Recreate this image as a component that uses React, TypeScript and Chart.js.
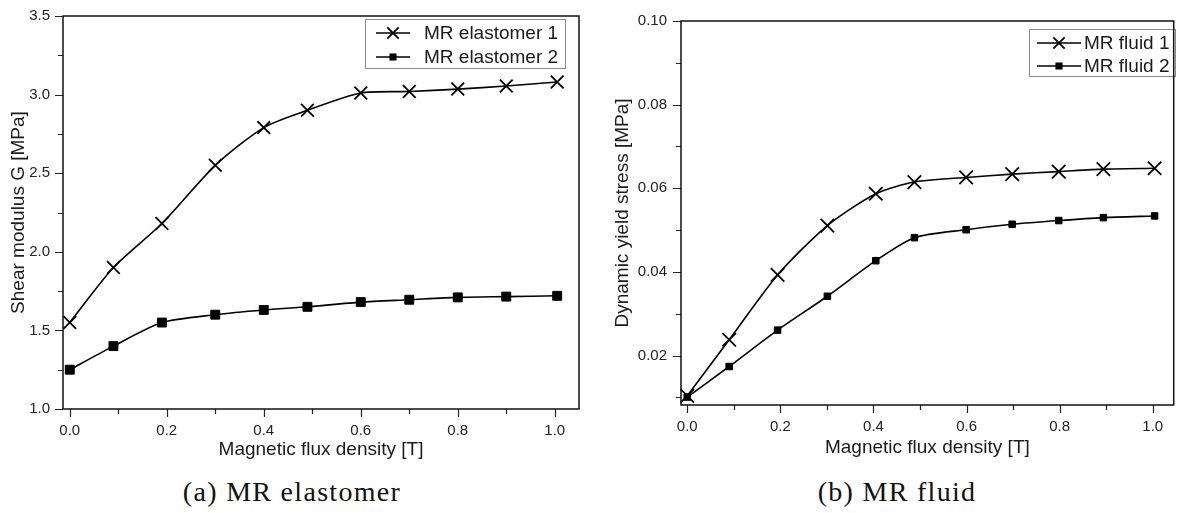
import React, { useEffect, useRef } from 'react';
import { Chart, registerables } from 'chart.js';

Chart.register(...registerables);

// ---------- data ----------
const elastomerX = [0, 0.09, 0.19, 0.3, 0.4, 0.49, 0.6, 0.7, 0.8, 0.9, 1.005];
const elastomer1 = [1.55, 1.9, 2.18, 2.55, 2.79, 2.9, 3.01, 3.02, 3.035, 3.055, 3.08];
const elastomer2 = [1.25, 1.4, 1.55, 1.6, 1.63, 1.65, 1.68, 1.695, 1.71, 1.715, 1.72];

const fluidX = [0, 0.09, 0.194, 0.301, 0.405, 0.488, 0.599, 0.698, 0.798, 0.894, 1.004];
const fluid1 = [0.0104, 0.0238, 0.0393, 0.0511, 0.0587, 0.0615, 0.0626, 0.0634, 0.064, 0.0646, 0.0648];
const fluid2 = [0.0101, 0.0174, 0.0261, 0.0342, 0.0427, 0.0482, 0.0501, 0.0514, 0.0523, 0.053, 0.0534];

const xTicks = [0, 0.1, 0.2, 0.3, 0.4, 0.5, 0.6, 0.7, 0.8, 0.9, 1.0];
const xTickLabels = ['0.0', '', '0.2', '', '0.4', '', '0.6', '', '0.8', '', '1.0'];

const elastomerYTicks = [1.0, 1.25, 1.5, 1.75, 2.0, 2.25, 2.5, 2.75, 3.0, 3.25, 3.5];
const elastomerYLabels = ['1.0', '', '1.5', '', '2.0', '', '2.5', '', '3.0', '', '3.5'];

const fluidYTicks = [0.01, 0.02, 0.03, 0.04, 0.05, 0.06, 0.07, 0.08, 0.09, 0.1];
const fluidYLabels = ['', '0.02', '', '0.04', '', '0.06', '', '0.08', '', '0.10'];

const elastomerLabels = ['MR elastomer 1', 'MR elastomer 2'];
const fluidLabels = ['MR fluid 1', 'MR fluid 2'];

const xTitle = 'Magnetic flux density [T]';
const elastomerYTitle = 'Shear modulus G [MPa]';
const fluidYTitle = 'Dynamic yield stress [MPa]';
const captionA = '(a) MR elastomer';
const captionB = '(b) MR fluid';

// ---------- helpers ----------
const SANS = '"Liberation Sans", Arial, sans-serif';
const toPts = (xs: number[], ys: number[]) => xs.map((x, i) => ({ x, y: ys[i] }));

function drawMarker(ctx: CanvasRenderingContext2D, style: string, cx: number, cy: number, r: number, bw: number) {
  ctx.save();
  ctx.strokeStyle = '#000';
  ctx.fillStyle = '#000';
  ctx.lineWidth = bw;
  if (style === 'crossRot') {
    const o = r * Math.SQRT1_2;
    ctx.beginPath();
    ctx.moveTo(cx - o, cy - o);
    ctx.lineTo(cx + o, cy + o);
    ctx.moveTo(cx - o, cy + o);
    ctx.lineTo(cx + o, cy - o);
    ctx.stroke();
  } else {
    const s = r * Math.SQRT1_2;
    ctx.fillRect(cx - s, cy - s, 2 * s, 2 * s);
  }
  ctx.restore();
}

const boxLegend = {
  id: 'boxLegend',
  afterDraw(chart: any, _args: any, opts: any) {
    const { ctx } = chart;
    ctx.save();
    ctx.strokeStyle = '#8a8a8a';
    ctx.lineWidth = 1;
    ctx.strokeRect(opts.x + 0.5, opts.y + 0.5, opts.w, opts.h);
    chart.data.datasets.forEach((ds: any, i: number) => {
      const y = opts.rows[i];
      ctx.strokeStyle = '#000';
      ctx.lineWidth = 1.5;
      ctx.beginPath();
      ctx.moveTo(opts.lineX0, y);
      ctx.lineTo(opts.lineX1, y);
      ctx.stroke();
      drawMarker(ctx, ds.pointStyle, (opts.lineX0 + opts.lineX1) / 2, y, opts.markerR[i], ds.pointBorderWidth);
      ctx.fillStyle = '#1a1a1a';
      ctx.font = `19px ${SANS}`;
      ctx.textBaseline = 'middle';
      ctx.textAlign = 'left';
      ctx.fillText(ds.label, opts.textX, y + 1);
    });
    ctx.restore();
  },
};

// frame around the plot plus outward major/minor tick marks
const frame = {
  id: 'frame',
  afterDraw(chart: any, _args: any, opts: any) {
    const { ctx, chartArea: a, scales } = chart;
    ctx.save();
    ctx.strokeStyle = '#222';
    ctx.lineWidth = 1.2;
    ctx.beginPath();
    opts.xTicks.forEach((v: number, i: number) => {
      const px = Math.round(scales.x.getPixelForValue(v)) + 0.5;
      const len = opts.xLabels[i] ? 8 : 5;
      ctx.moveTo(px, a.bottom);
      ctx.lineTo(px, a.bottom + len);
    });
    opts.yTicks.forEach((v: number, i: number) => {
      const py = Math.round(scales.y.getPixelForValue(v)) + 0.5;
      const len = opts.yLabels[i] ? 8 : 5;
      ctx.moveTo(a.left, py);
      ctx.lineTo(a.left - len, py);
    });
    ctx.stroke();
    ctx.strokeStyle = '#111';
    ctx.lineWidth = 1.5;
    ctx.strokeRect(a.left, a.top, a.right - a.left, a.bottom - a.top);
    ctx.restore();
  },
};

function axis(opts: any) {
  return {
    type: 'linear',
    min: opts.min,
    max: opts.max,
    afterBuildTicks: (scale: any) => {
      scale.ticks = opts.ticks.map((v: number) => ({ value: v }));
    },
    afterFit: (scale: any) => {
      if (opts.horizontal) scale.height = opts.size;
      else scale.width = opts.size;
    },
    border: { display: false },
    grid: {
      display: true,
      drawOnChartArea: false,
      drawTicks: true,
      tickLength: 8,
      tickColor: 'rgba(0,0,0,0)',
    },
    ticks: {
      autoSkip: false,
      maxRotation: 0,
      padding: opts.tickPad,
      color: '#222',
      font: { family: SANS, size: 15 },
      callback: (_v: any, i: number) => opts.labels[i],
    },
    title: {
      display: true,
      text: opts.title,
      color: '#1a1a1a',
      font: { family: SANS, size: 19 },
      padding: opts.titlePad,
    },
  };
}

function makeConfig(p: any): any {
  const mk = (label: string, data: any, style: string, r: number, bw: number) => ({
    label,
    data,
    borderColor: '#000',
    backgroundColor: '#000',
    borderWidth: 1.6,
    pointStyle: style,
    pointRadius: r,
    pointBorderWidth: bw,
    pointBackgroundColor: '#000',
    pointBorderColor: '#000',
    tension: 0.25,
    fill: false,
    clip: false,
  });
  return {
    type: 'line',
    data: {
      datasets: [
        mk(p.labels[0], p.d1, 'crossRot', p.crossR, 1.8),
        mk(p.labels[1], p.d2, 'rect', p.rectR, 1),
      ],
    },
    options: {
      responsive: false,
      animation: false,
      layout: { padding: p.padding },
      plugins: {
        legend: { display: false },
        tooltip: { enabled: false },
        boxLegend: p.legend,
        frame: { xTicks: p.x.ticks, xLabels: p.x.labels, yTicks: p.y.ticks, yLabels: p.y.labels },
      },
      scales: {
        x: axis({ ...p.x, horizontal: true }),
        y: axis({ ...p.y, horizontal: false }),
      },
    },
    plugins: [boxLegend, frame],
  };
}

function ChartCanvas({ config, width, height, left }: any) {
  const ref = useRef<HTMLCanvasElement>(null);
  useEffect(() => {
    const chart = new Chart(ref.current as HTMLCanvasElement, config);
    return () => chart.destroy();
  }, []);
  return (
    <canvas
      ref={ref}
      width={width}
      height={height}
      style={{ position: 'absolute', left, top: 0, width, height }}
    />
  );
}

const leftConfig = makeConfig({
  labels: elastomerLabels,
  d1: toPts(elastomerX, elastomer1),
  d2: toPts(elastomerX, elastomer2),
  crossR: 9,
  rectR: 6.3,
  padding: { left: 0, right: 16, top: 16, bottom: 9 },
  x: { min: -0.014, max: 1.05, ticks: xTicks, labels: xTickLabels, size: 52, tickPad: 5, title: xTitle, titlePad: { top: 0, bottom: 0 } },
  y: { min: 1.0, max: 3.5, ticks: elastomerYTicks, labels: elastomerYLabels, size: 63, tickPad: 5, title: elastomerYTitle, titlePad: { top: 7.4, bottom: 0 } },
  legend: { x: 365, y: 19, w: 200, h: 49, lineX0: 376, lineX1: 410, textX: 424, rows: [33, 57], markerR: [8, 5] },
});

const rightConfig = makeConfig({
  labels: fluidLabels,
  d1: toPts(fluidX, fluid1),
  d2: toPts(fluidX, fluid2),
  crossR: 9.5,
  rectR: 4.6,
  padding: { left: 0, right: 2, top: 21, bottom: 11 },
  x: { min: -0.0135, max: 1.045, ticks: xTicks, labels: xTickLabels, size: 54, tickPad: 5, title: xTitle, titlePad: { top: 0, bottom: 0 } },
  y: { min: 0.0082, max: 0.1, ticks: fluidYTicks, labels: fluidYLabels, size: 86, tickPad: 6, title: fluidYTitle, titlePad: { top: 16.6, bottom: 0 } },
  legend: { x: 434, y: 29, w: 146, h: 47, lineX0: 442, lineX1: 486, textX: 489, rows: [43, 66], markerR: [8, 5] },
});

const captionStyle: any = {
  position: 'absolute',
  top: 475,
  fontFamily: '"Liberation Serif", "Times New Roman", serif',
  fontSize: 28,
  letterSpacing: 1.3,
  color: '#111',
  whiteSpace: 'nowrap',
  transform: 'translateX(-50%)',
  lineHeight: '34px',
};

export default function App() {
  return (
    <div style={{ position: 'fixed', left: 0, top: 0, width: 1185, height: 513, background: '#fff', overflow: 'hidden' }}>
      <ChartCanvas config={leftConfig} width={595} height={470} left={0} />
      <ChartCanvas config={rightConfig} width={590} height={470} left={595} />
      <div style={{ ...captionStyle, left: 292 }}>{captionA}</div>
      <div style={{ ...captionStyle, left: 897 }}>{captionB}</div>
    </div>
  );
}
